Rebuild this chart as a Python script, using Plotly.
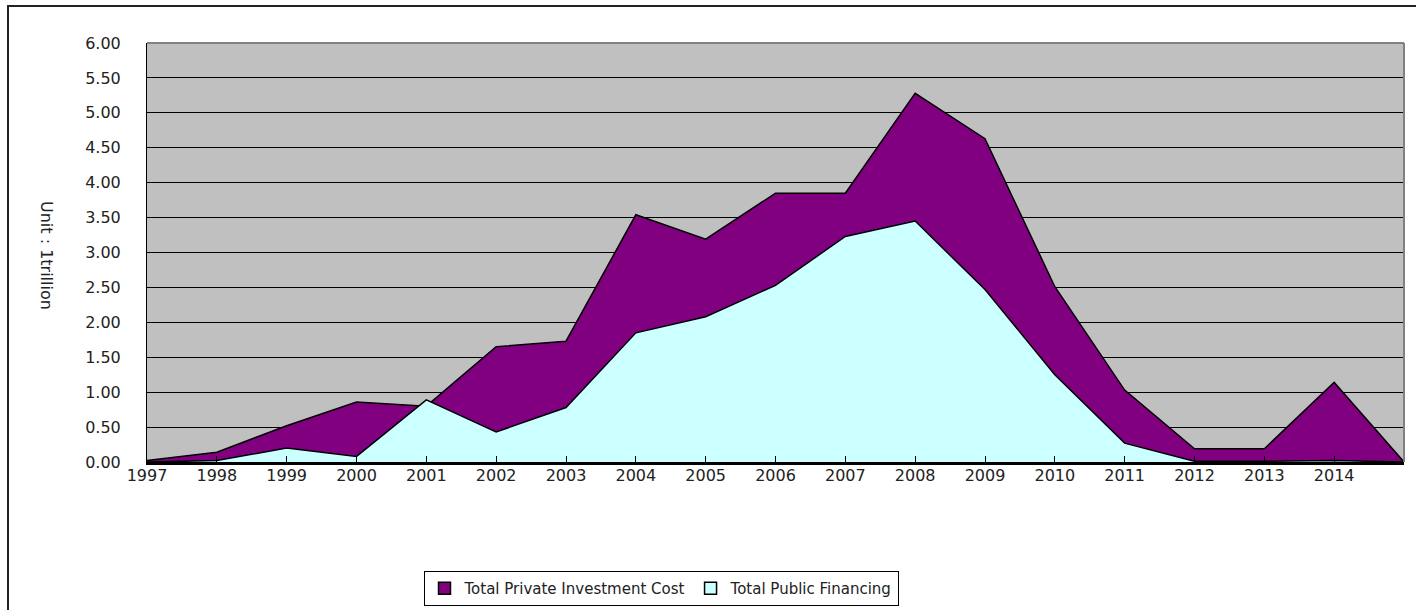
import plotly.graph_objects as go

years = ["1997", "1998", "1999", "2000", "2001", "2002", "2003", "2004", "2005",
         "2006", "2007", "2008", "2009", "2010", "2011", "2012", "2013", "2014", ""]
private_cost = [0.02, 0.14, 0.52, 0.86, 0.80, 1.65, 1.73, 3.54, 3.19, 3.85, 3.85,
                5.28, 4.63, 2.51, 1.03, 0.19, 0.19, 1.14, 0.00]
public_fin = [0.00, 0.02, 0.20, 0.08, 0.89, 0.43, 0.78, 1.85, 2.08, 2.53, 3.23,
              3.45, 2.47, 1.25, 0.27, 0.01, 0.01, 0.02, 0.00]
names = ["Total Private Investment Cost", "Total Public Financing"]
colors = ["#800080", "#CCFFFF"]

x = list(range(len(years)))

fig = go.Figure()
for vals, nm, col in zip([private_cost, public_fin], names, colors):
    fig.add_trace(go.Scatter(
        x=x, y=vals, name=nm, mode="lines", showlegend=False,
        fill="tozeroy", fillcolor=col, line=dict(color="black", width=1.5)))
for nm, col in zip(names, colors):
    fig.add_trace(go.Scatter(
        x=[None], y=[None], name=nm, mode="markers",
        marker=dict(symbol="square", size=12, color=col,
                    line=dict(color="black", width=1.5))))

L, R, T, B = 147, 12, 43, 148
W, H = 1416, 610
pw, ph = W - L - R, H - T - B

def px(v):
    return (v - L) / pw

def py(v):
    return (H - B - v) / ph

FONT = "DejaVu Sans, Verdana, sans-serif"

fig.update_layout(
    width=W, height=H,
    margin=dict(l=L, r=R, t=T, b=B, autoexpand=False),
    paper_bgcolor="white", plot_bgcolor="#C0C0C0",
    font=dict(family=FONT, size=16, color="#222"),
    showlegend=True,
    legend=dict(orientation="h", x=px(661), xanchor="center", y=py(606), yanchor="bottom",
                bordercolor="black", borderwidth=1, bgcolor="white",
                font=dict(size=15), itemwidth=30, traceorder="normal",
                tracegroupgap=0),
    xaxis=dict(range=[0, len(years) - 1], tickvals=x[:-1], ticktext=years[:-1],
               ticks="inside", ticklen=6, tickcolor="black", showgrid=False,
               showline=True, linecolor="black", linewidth=3, zeroline=False,
               ticklabelstandoff=-3, tickfont=dict(size=16)),
    yaxis=dict(range=[0, 6], dtick=0.5, tickformat=".2f", showgrid=True,
               gridcolor="black", gridwidth=1, showline=True, linecolor="black",
               linewidth=1, zeroline=False, ticks="", ticklabelstandoff=22,
               tickfont=dict(size=16)),
    shapes=[
        dict(type="line", xref="paper", yref="paper", x0=0, x1=1, y0=1, y1=1,
             line=dict(color="#808080", width=2)),
        dict(type="line", xref="paper", yref="paper", x0=1, x1=1, y0=0, y1=1,
             line=dict(color="#808080", width=2)),
        dict(type="rect", xref="paper", yref="paper", x0=px(8), x1=px(1430),
             y0=py(630), y1=py(6), line=dict(color="#222", width=2), layer="below"),
    ],
    annotations=[
        dict(text="Unit : 1trillion", textangle=90, xref="paper", yref="paper",
             x=px(47), y=py(255), xanchor="center", yanchor="middle",
             showarrow=False, font=dict(size=16)),
    ],
)

fig.write_html("out.html", config={"displayModeBar": False},
               post_script="document.body.style.margin='0';")
